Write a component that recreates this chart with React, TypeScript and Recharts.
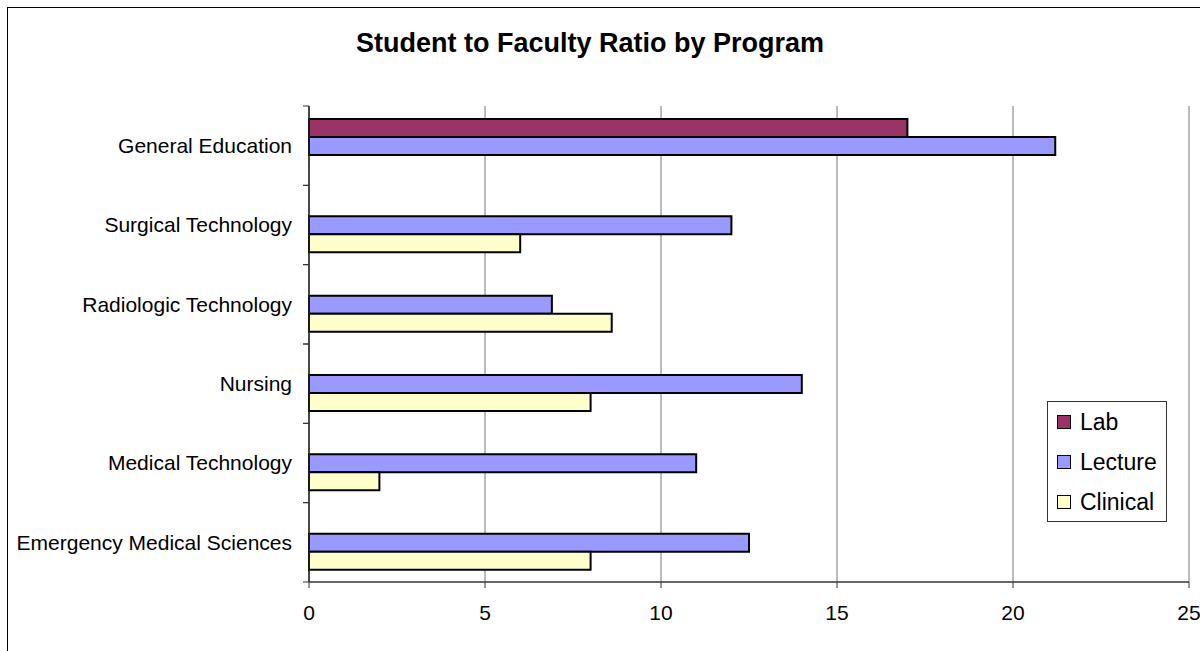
import * as React from "react"
import { BarChart, Bar, XAxis, YAxis, CartesianGrid, Legend } from "recharts"

const programs = [
  "General Education",
  "Surgical Technology",
  "Radiologic Technology",
  "Nursing",
  "Medical Technology",
  "Emergency Medical Sciences",
]
const lab = [17, null, null, null, null, null]
const lecture = [21.2, 12, 6.9, 14, 11, 12.5]
const clinical = [null, 6, 8.6, 8, 2, 8]
const xTicks = [0, 5, 10, 15, 20, 25]

const series = [
  { key: "lab", name: "Lab", color: "#993366" },
  { key: "lecture", name: "Lecture", color: "#9999FF" },
  { key: "clinical", name: "Clinical", color: "#FFFFCC" },
]

const data = programs.map((name, i) => ({
  name,
  lab: lab[i],
  lecture: lecture[i],
  clinical: clinical[i],
}))

const FONT = "'Liberation Sans', Arial, sans-serif"
const W = 1200
const H = 651
const TOP = 106
const BOTTOM = 582
const BAND = (BOTTOM - TOP) / programs.length

function YTick(props: any) {
  const { x, y, payload } = props
  const ax = x + 17
  const half = BAND / 2
  return (
    <g>
      <text x={x} y={y} dy="0.355em" textAnchor="end" fontSize={21} fill="#000" fontFamily={FONT}>
        {payload.value}
      </text>
      <line x1={ax} x2={ax - 6} y1={y - half} y2={y - half} stroke="#333" />
      <line x1={ax} x2={ax - 6} y1={y + half} y2={y + half} stroke="#333" />
    </g>
  )
}

function LegendBox() {
  return (
    <div
      style={{
        boxSizing: "border-box",
        width: 120,
        height: 121,
        border: "1px solid #333",
        background: "#fff",
        paddingTop: 0,
        fontFamily: FONT,
      }}
    >
      {series.map((s) => (
        <div key={s.key} style={{ height: 40, display: "flex", alignItems: "center" }}>
          <span
            style={{
              display: "inline-block",
              boxSizing: "border-box",
              width: 14,
              height: 14,
              marginLeft: 9,
              marginRight: 9,
              background: s.color,
              border: "1.5px solid #000",
            }}
          />
          <span style={{ fontSize: 23, lineHeight: "23px", color: "#000" }}>{s.name}</span>
        </div>
      ))}
    </div>
  )
}

export default function App() {
  return (
    <div style={{ position: "fixed", left: 0, top: 0, width: W, height: H, overflow: "hidden", background: "#fff" }}>
      <div
        style={{
          position: "absolute",
          left: 7,
          top: 7,
          width: W,
          height: H,
          borderLeft: "1.5px solid #000",
          borderTop: "1.5px solid #000",
        }}
      />
      <div
        style={{
          position: "absolute",
          left: 0,
          top: 30,
          width: 1180,
          textAlign: "center",
          fontFamily: FONT,
          fontWeight: "bold",
          fontSize: 27,
          lineHeight: "27px",
          color: "#000",
        }}
      >
        Student to Faculty Ratio by Program
      </div>
      <div style={{ position: "absolute", left: 0, top: 0 }}>
        <BarChart
          width={W}
          height={H}
          data={data}
          layout="vertical"
          margin={{ top: TOP, right: 11, bottom: H - BOTTOM - 40, left: 0 }}
          barSize={18}
          barGap={0}
        >
          <CartesianGrid horizontal={false} stroke="#777" />
          <XAxis
            type="number"
            domain={[0, 25]}
            ticks={xTicks}
            height={40}
            tickSize={6}
            tickMargin={17}
            axisLine={{ stroke: "#333", strokeWidth: 1.5 }}
            tickLine={{ stroke: "#333" }}
            tick={{ fontSize: 21, fill: "#000", fontFamily: FONT }}
          />
          <XAxis
            xAxisId="top"
            orientation="top"
            type="number"
            domain={[0, 25]}
            height={0}
            tick={false}
            tickLine={false}
            axisLine={{ stroke: "#999", strokeWidth: 1.5 }}
          />
          <YAxis
            type="category"
            dataKey="name"
            width={309}
            tickSize={6}
            tickMargin={11}
            tickLine={false}
            axisLine={{ stroke: "#222", strokeWidth: 1.5 }}
            tick={<YTick />}
            interval={0}
          />
          <Legend
            layout="vertical"
            align="center"
            verticalAlign="middle"
            content={() => <LegendBox />}
            wrapperStyle={{ left: 1047, top: 401, width: 120, height: 121 }}
          />
          {series.map((s) => (
            <Bar
              key={s.key}
              dataKey={s.key}
              name={s.name}
              fill={s.color}
              stroke="#000"
              strokeWidth={2}
              isAnimationActive={false}
            />
          ))}
        </BarChart>
      </div>
    </div>
  )
}
